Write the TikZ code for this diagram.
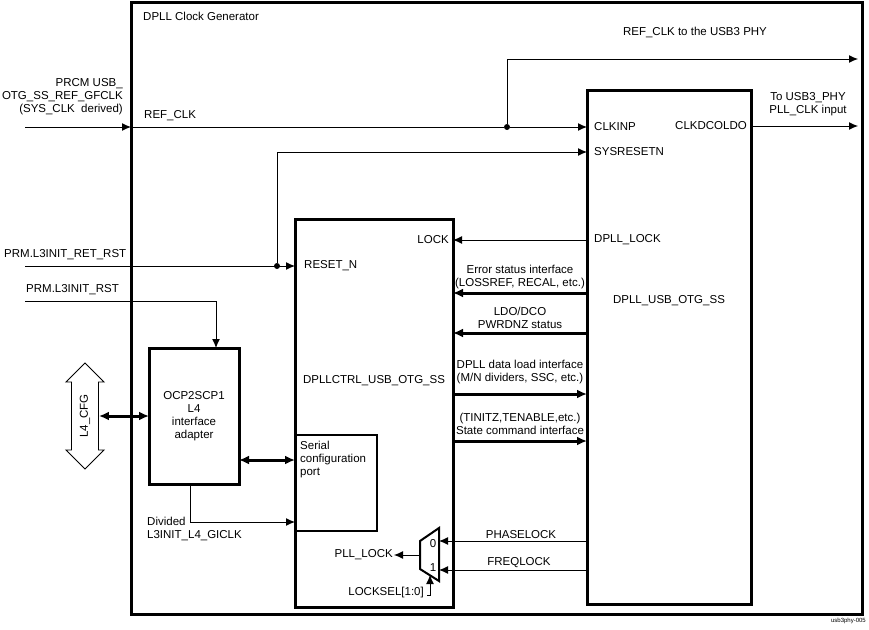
\documentclass[tikz,border=0pt]{standalone}
\usepackage{fontspec}
\setmainfont{Liberation Sans}
\usetikzlibrary{shapes,arrows,arrows.meta,positioning}
\tikzstyle{genblock} = [rectangle, draw, line width=3pt, anchor=north west,
    inner sep=0pt, outer sep=0pt]
\tikzstyle{block} = [rectangle, draw, line width=3pt, anchor=north west,
    text centered, align=center, inner sep=0pt, outer sep=0pt]
\tikzstyle{port} = [inner sep=1pt]
\tikzstyle{line} = [draw, line width=1pt, -{Latex[length=9pt,width=8pt]}]
\tikzstyle{bus} = [draw, line width=3pt, -{Latex[length=10pt,width=9pt]}]
\tikzstyle{bibus} = [draw, line width=3pt,
    {Latex[length=10pt,width=9pt]}-{Latex[length=10pt,width=9pt]}]
\tikzstyle{junction} = [circle, fill, inner sep=0pt, minimum size=6pt]
\begin{document}
\begin{tikzpicture}[x=1pt, y=-1pt, font=\fontsize{11.5}{13}\selectfont]
    \useasboundingbox (0,0) rectangle (869,629);
    % Place nodes
    \node [genblock, minimum width=731pt, minimum height=612pt] (gen) at (131,2) {};
    \node [port, anchor=west] (gentitle) at (142,16) {DPLL Clock Generator};
    \node [block, minimum width=164pt, minimum height=514pt] (dpll) at (587,90) {};
    \node [block, minimum width=158pt, minimum height=388pt] (ctrl) at (295,219) {};
    \node [block, minimum width=90pt, minimum height=136pt] (ocp) at (149,348)
        {OCP2SCP1\\L4\\interface\\adapter};
    \node [block, line width=1.5pt, minimum width=82pt, minimum height=96pt] (serial) at (295,435) {};
    \node [port, anchor=north west, align=left] (serialtxt) at (299,440)
        {Serial\\configuration\\port};
    \node [draw, double arrow, rotate=90, line width=0.8pt, minimum height=106pt,
        inner xsep=2pt, inner ysep=8pt, double arrow head extend=5.5pt] (cfg) at (85,416) {L4\_CFG};
    % Ports of the DPLL
    \node [port, anchor=west] (clkinp) at (593,127) {CLKINP};
    \node [port, anchor=west] (sysresetn) at (593,152) {SYSRESETN};
    \node [port, anchor=east] (clkdcoldo) at (748,126) {CLKDCOLDO};
    \node [port, anchor=west] (dplllock) at (593,240) {DPLL\_LOCK};
    \node [port] (dpllname) at (669,301) {DPLL\_USB\_OTG\_SS};
    % Ports of the controller
    \node [port, anchor=east] (lock) at (450,240) {LOCK};
    \node [port, anchor=west] (resetn) at (303,266) {RESET\_N};
    \node [port] (ctrlname) at (374,381) {DPLLCTRL\_USB\_OTG\_SS};
    % Interfaces between the two blocks
    \coordinate (err) at (520,293);
    \coordinate (ldo) at (520,333);
    \coordinate (load) at (520,394);
    \coordinate (state) at (520,441);
    \coordinate (phase) at (521,541);
    \coordinate (freq) at (519,570);
    \node [port, align=center, above=3pt of err] (errlbl) {Error status interface\\(LOSSREF, RECAL, etc.)};
    \node [port, align=center, above=3pt of ldo] (ldolbl) {LDO/DCO\\PWRDNZ status};
    \node [port, align=center, above=9pt of load] (loadlbl) {DPLL data load interface\\(M/N dividers, SSC, etc.)};
    \node [port, align=center, above=5pt of state] (statelbl) {(TINITZ,TENABLE,etc.)\\State command interface};
    \node [port, above=1pt of phase] (phaselbl) {PHASELOCK};
    \node [port, above=1pt of freq] (freqlbl) {FREQLOCK};
    % Lock multiplexer
    \coordinate (muxa) at (420,541);
    \coordinate (muxb) at (439,528);
    \coordinate (muxc) at (439,581);
    \coordinate (muxd) at (420,569);
    \coordinate (muxout) at (420,555);
    \coordinate (muxsel) at (430,575);
    \coordinate (selin) at (427,595);
    \draw [line width=2pt] (muxa) -- (muxb) -- (muxc) -- (muxd) -- cycle;
    \node [inner sep=0pt] (mux0) at (433,544) {0};
    \node [inner sep=0pt] (mux1) at (433,568) {1};
    \node [port, anchor=east] (plllock) at (394,555) {PLL\_LOCK};
    \node [port, anchor=east] (locksel) at (425,593) {LOCKSEL[1:0]};
    % Outside signals
    \coordinate (refin) at (25,127);
    \coordinate (refout) at (858,59);
    \coordinate (pllout) at (858,126);
    \coordinate (retrst) at (25,266);
    \coordinate (l3rst) at (25,301);
    \node [junction] (refdot) at (507,127) {};
    \node [junction] (rstdot) at (277,266) {};
    \node [port, anchor=east, align=right] (prcmlbl) at (124,97)
        {PRCM USB\_\\OTG\_SS\_REF\_GFCLK\\(SYS\_CLK\ \ derived)};
    \node [port, anchor=west] (refclklbl) at (143,116) {REF\_CLK};
    \node [port] (refoutlbl) at (695,32) {REF\_CLK to the USB3 PHY};
    \node [port, align=center] (plloutlbl) at (808,104) {To USB3\_PHY\\PLL\_CLK input};
    \node [port, anchor=west] (retrstlbl) at (3,255) {PRM.L3INIT\_RET\_RST};
    \node [port, anchor=west] (l3rstlbl) at (25,290) {PRM.L3INIT\_RST};
    \node [port, anchor=west, align=left] (gicklbl) at (146,529) {Divided\\L3INIT\_L4\_GICLK};
    \node [anchor=east, inner sep=0pt, font=\fontsize{6}{7}\selectfont] (figid) at (866,621) {usb3phy-005};
    % Draw edges
    \path [line] (refin) -- (refin -| gen.west);
    \draw [line width=1pt] (refin -| gen.west) -- (refdot);
    \path [line] (refdot) -- (dpll.west |- refdot);
    \path [line] (refdot) |- (refout);
    \path [line] (dpll.east |- pllout) -- (pllout);
    \path [line] (retrst) -- (ctrl.west |- retrst);
    \path [line] (rstdot) |- (dpll.west |- sysresetn);
    \path [line] (l3rst) -| ([xshift=22pt]ocp.north);
    \path [line] (dpll.west |- dplllock) -- (ctrl.east |- dplllock);
    \path [bus] (dpll.west |- err) -- (ctrl.east |- err);
    \path [bus] (dpll.west |- ldo) -- (ctrl.east |- ldo);
    \path [bus] (ctrl.east |- load) -- (dpll.west |- load);
    \path [bus] (ctrl.east |- state) -- (dpll.west |- state);
    \path [line] (dpll.west |- phase) -- (muxb |- phase);
    \path [line] (dpll.west |- freq) -- (muxb |- freq);
    \path [line] (muxout) -- (plllock.east);
    \path [line] (selin) -| (muxsel);
    \path [bibus] (cfg.south) -- (cfg.south -| ocp.west);
    \path [bibus] ([yshift=-44pt]ocp.east) -- ([yshift=-44pt]ocp.east -| serial.west);
    \path [line] ([xshift=-4pt]ocp.south) |- ([yshift=-39pt]serial.west);
\end{tikzpicture}
\end{document}
